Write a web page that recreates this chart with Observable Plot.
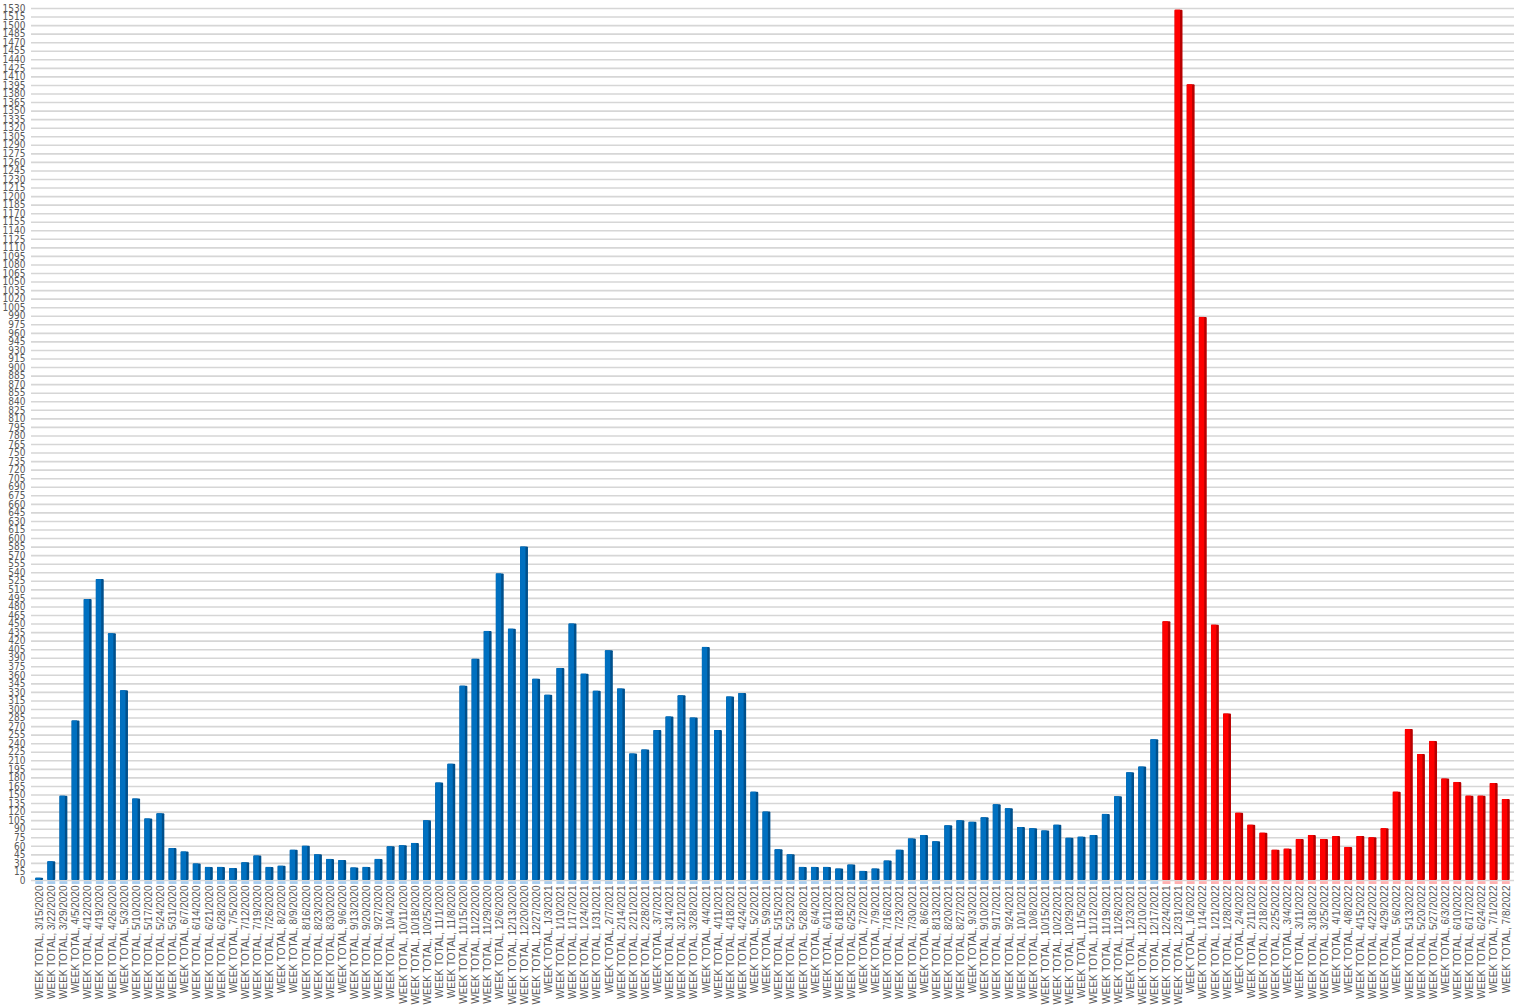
<!DOCTYPE html>
<html>
<head>
<meta charset="utf-8">
<script src="https://cdn.jsdelivr.net/npm/d3@7"></script>
<script src="https://cdn.jsdelivr.net/npm/@observablehq/plot@0.6"></script>
<style>
  body { margin: 0; background: #fff; }
  #chart svg { display: block; }
</style>
</head>
<body>
<div id="chart"></div>
<script>
// Week-ending dates (categories)
const weeks = [
  "3/15/2020","3/22/2020","3/29/2020","4/5/2020","4/12/2020","4/19/2020","4/26/2020","5/3/2020","5/10/2020","5/17/2020",
  "5/24/2020","5/31/2020","6/7/2020","6/14/2020","6/21/2020","6/28/2020","7/5/2020","7/12/2020","7/19/2020","7/26/2020",
  "8/2/2020","8/9/2020","8/16/2020","8/23/2020","8/30/2020","9/6/2020","9/13/2020","9/20/2020","9/27/2020","10/4/2020",
  "10/11/2020","10/18/2020","10/25/2020","11/1/2020","11/8/2020","11/15/2020","11/22/2020","11/29/2020","12/6/2020","12/13/2020",
  "12/20/2020","12/27/2020",
  "1/3/2021","1/10/2021","1/17/2021","1/24/2021","1/31/2021","2/7/2021","2/14/2021","2/21/2021","2/28/2021","3/7/2021",
  "3/14/2021","3/21/2021","3/28/2021","4/4/2021","4/11/2021","4/18/2021","4/24/2021","5/2/2021","5/9/2021","5/15/2021",
  "5/23/2021","5/28/2021","6/4/2021","6/11/2021","6/18/2021","6/25/2021","7/2/2021","7/9/2021","7/16/2021","7/23/2021",
  "7/30/2021","8/6/2021","8/13/2021","8/20/2021","8/27/2021","9/3/2021","9/10/2021","9/17/2021","9/24/2021","10/1/2021",
  "10/8/2021","10/15/2021","10/22/2021","10/29/2021","11/5/2021","11/12/2021","11/19/2021","11/26/2021","12/3/2021","12/10/2021",
  "12/17/2021","12/24/2021","12/31/2021",
  "1/6/2022","1/14/2022","1/21/2022","1/28/2022","2/4/2022","2/11/2022","2/18/2022","2/25/2022","3/4/2022","3/11/2022",
  "3/18/2022","3/25/2022","4/1/2022","4/8/2022","4/15/2022","4/22/2022","4/29/2022","5/6/2022","5/13/2022","5/20/2022",
  "5/27/2022","6/3/2022","6/10/2022","6/17/2022","6/24/2022","7/1/2022","7/8/2022"
];

// Weekly totals
const weekTotals = [
  4, 33, 148, 280, 493, 528, 433, 333, 143, 108,
  117, 56, 50, 29, 23, 23, 21, 31, 43, 23,
  25, 53, 60, 45, 37, 35, 22, 23, 37, 59,
  61, 65, 105, 171, 204, 341, 388, 437, 538, 441,
  585, 353,
  325, 372, 450, 362, 332, 403, 336, 222, 229, 263,
  287, 324, 285, 409, 263, 322, 328, 155, 120, 54,
  45, 23, 23, 23, 20, 27, 16, 20, 34, 53,
  73, 79, 68, 96, 105, 102, 110, 133, 126, 93,
  91, 87, 97, 74, 76, 79, 116, 147, 189, 199,
  247, 454, 1527,
  1396, 988, 448, 292, 118, 97, 83, 53, 55, 72,
  79, 72, 77, 58, 77, 75, 91, 155, 265, 221,
  244, 178, 172, 148, 148, 170, 142
];

// First week drawn in the highlight colour
const highlightFrom = "12/24/2021";

// Y tick values
const yTicks = d3.range(0, 1531, 15);
const labelPrefix = "WEEK TOTAL, ";

const startIdx = weeks.indexOf(highlightFrom);
const data = weeks.map((w, i) => ({
  week: w,
  total: weekTotals[i],
  period: i >= startIdx ? "surge" : "before"
}));

const mainColor = {before: "#0070c0", surge: "#ff0000"};
const sideColor = {before: "#00508c", surge: "#b80000"};
const baseColor = {before: "#a9cdee", surge: "#ffb0b0"};

const chart = Plot.plot({
  width: 1523,
  height: 1008,
  marginTop: 8,
  marginBottom: 128,
  marginLeft: 31,
  marginRight: 9,
  style: {fontFamily: "'Liberation Sans', Arial, sans-serif", background: "#fff"},
  x: {type: "band", domain: weeks, padding: 0.35, round: false, label: null},
  y: {domain: [0, 1530], label: null},
  marks: [
    Plot.ruleY(yTicks, {stroke: "#d6d6d6", strokeWidth: 1.6}),
    Plot.axisY({
      ticks: yTicks, tickSize: 0, tickPadding: 6, label: null,
      tickFormat: d => String(d),
      fontSize: 10, fill: "#595959",
      fontFamily: "'Liberation Sans Narrow', 'DejaVu Sans Condensed', sans-serif"
    }),
    Plot.axisX({
      tickRotate: -90, tickSize: 0, tickPadding: 5, label: null,
      tickFormat: d => labelPrefix + d, fontSize: 10, fill: "#595959"
    }),
    // base reflection
    Plot.barY(data, {x: "week", y1: -7, y2: -2, fill: d => baseColor[d.period]}),
    // dark side
    Plot.barY(data, {x: "week", y: "total", fill: d => sideColor[d.period], rx: 1}),
    // front face
    Plot.barY(data, {x: "week", y: "total", fill: d => mainColor[d.period], insetRight: 2.5})
  ]
});
document.getElementById("chart").append(chart);
</script>
</body>
</html>
